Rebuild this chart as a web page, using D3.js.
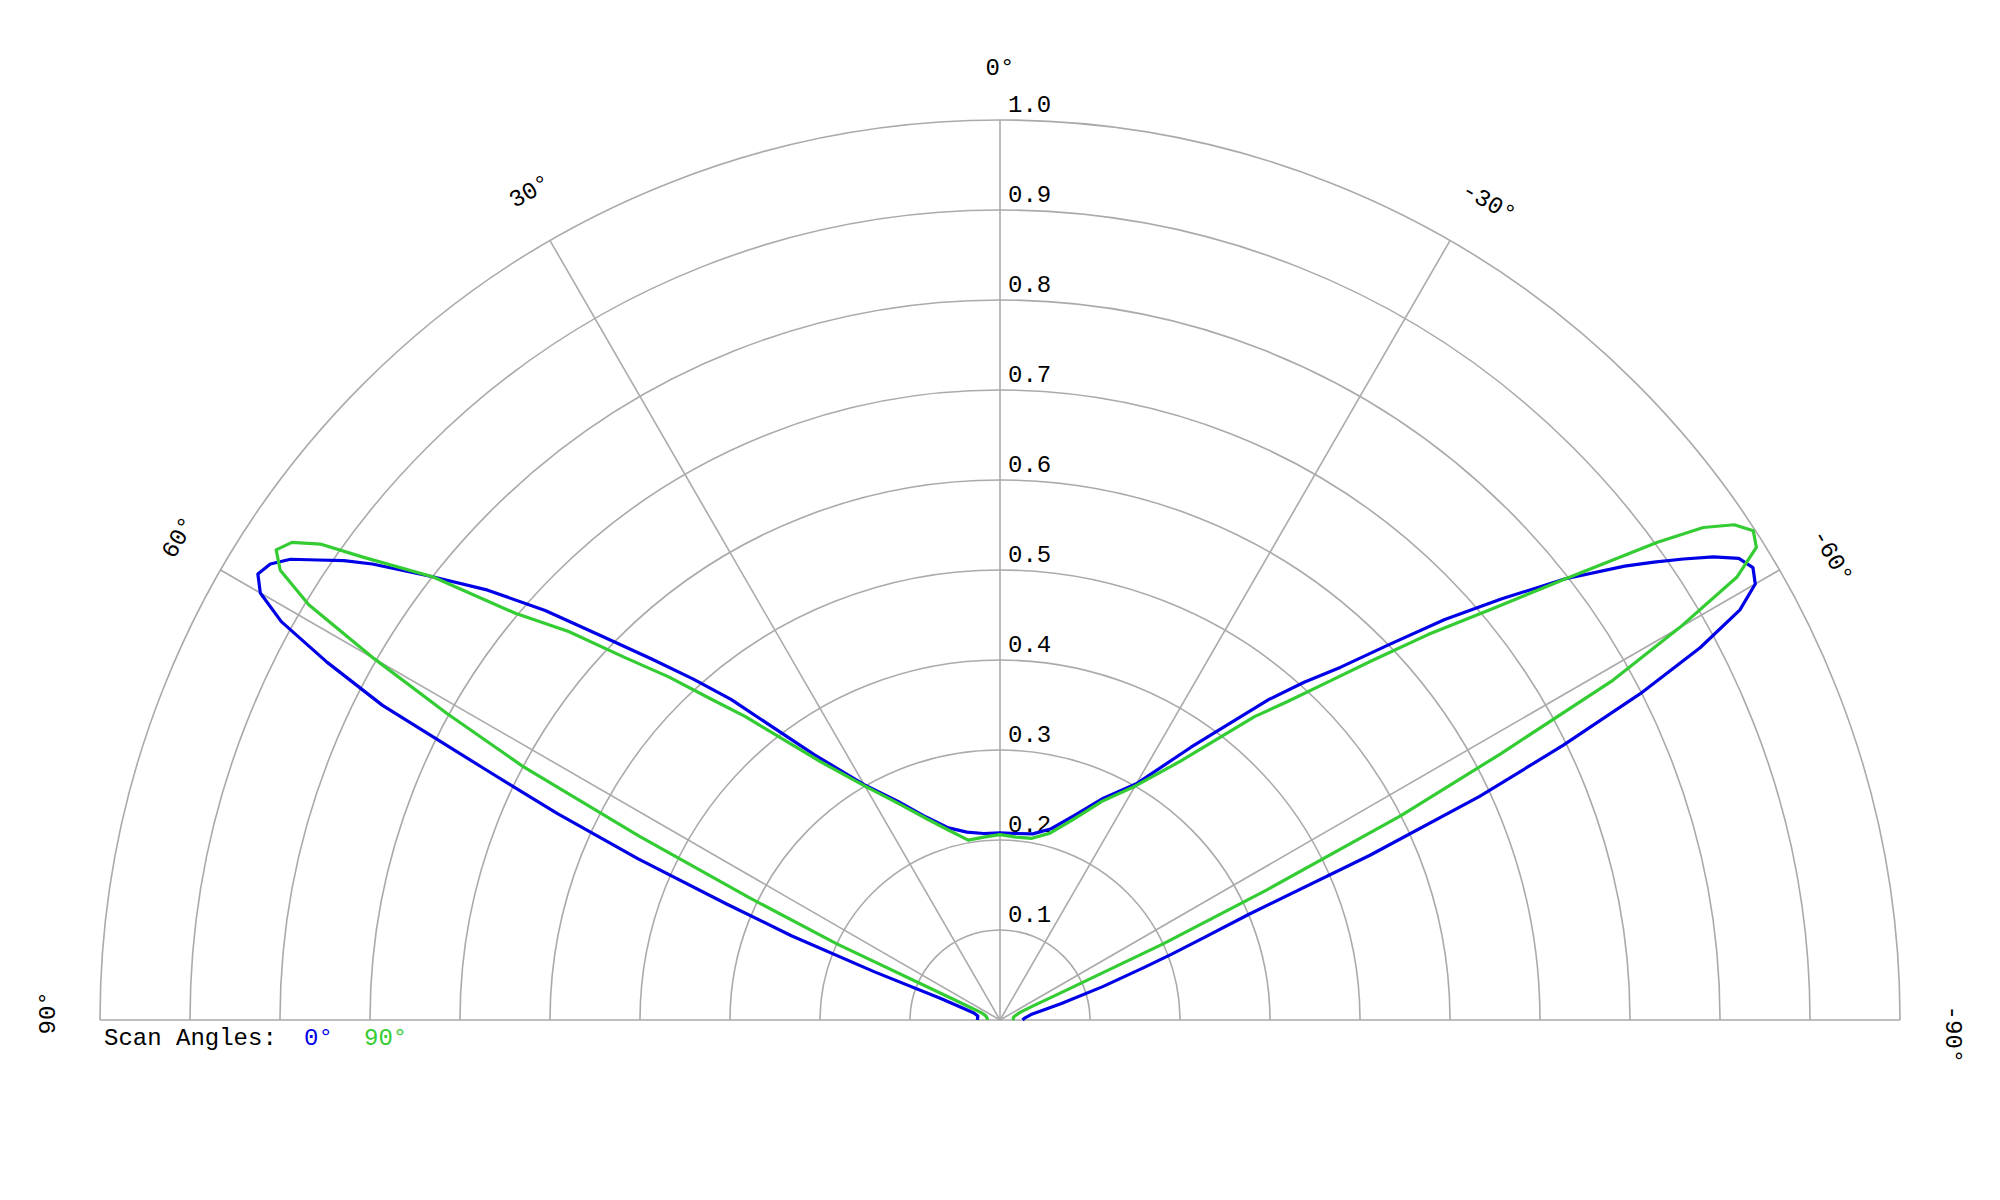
<!DOCTYPE html>
<html>
<head>
<meta charset="utf-8">
<script src="https://cdn.jsdelivr.net/npm/d3@7"></script>
<style>
  body { margin: 0; background: #fff; }
  svg { display: block; }
  text { font-family: "Courier New", "Liberation Mono", monospace; font-size: 24px; fill: #000; }
</style>
</head>
<body>
<svg id="chart" width="2000" height="1200"></svg>
<script>
// Angles in degrees (0° = boresight up, positive toward the left)
const angles = [-90,-85,-80,-75,-72,-70,-69,-68,-67,-66,-65,-64,-63,-62,-61,-60,-59,-58,-57,-56,-55,-54,-52,-50,-48,-46,-44,-42,-40,-35,-30,-25,-20,-15,-10,-5,
  0,
  5,10,15,20,25,30,35,40,42,44,46,48,50,52,54,55,56,57,58,59,60,61,62,63,64,65,66,67,68,69,70,72,75,80,85,90];

// Scan angle 0° (blue)
const scan0 = [0.025,0.028,0.035,0.07,0.12,0.17,0.205,0.245,0.30,0.45,0.588,0.696,0.798,0.881,0.940,0.969,0.976,0.968,0.945,0.916,0.887,0.858,0.796,0.728,0.665,0.600,0.545,0.505,0.465,0.37,0.303,0.272,0.242,0.220,0.210,0.208,
  0.208,
  0.208,0.212,0.221,0.240,0.268,0.302,0.36,0.465,0.51,0.558,0.613,0.68,0.743,0.80,0.862,0.89,0.914,0.940,0.956,0.962,0.949,0.913,0.847,0.770,0.64,0.543,0.44,0.33,0.25,0.15,0.07,0.045,0.03,0.025,0.025,0.025];

// Scan angle 90° (green)
const scan90 = [0.014,0.015,0.015,0.017,0.02,0.022,0.025,0.03,0.04,0.07,0.20,0.33,0.50,0.63,0.779,0.872,0.955,0.991,0.998,0.984,0.954,0.903,0.795,0.708,0.64,0.575,0.52,0.475,0.44,0.352,0.300,0.268,0.237,0.215,0.205,0.204,
  0.206,
  0.204,0.203,0.218,0.238,0.265,0.300,0.352,0.44,0.48,0.53,0.58,0.645,0.703,0.80,0.875,0.922,0.949,0.959,0.943,0.896,0.803,0.703,0.601,0.45,0.31,0.20,0.06,0.035,0.025,0.022,0.02,0.018,0.016,0.015,0.014,0.014];

const ringValues = [0.1,0.2,0.3,0.4,0.5,0.6,0.7,0.8,0.9,1.0];
const ringLabels = ["0.1","0.2","0.3","0.4","0.5","0.6","0.7","0.8","0.9","1.0"];
const spokeAngles = [-60,-30,0,30,60];
const angleTicks = [90,60,30,0,-30,-60,-90];
const angleTickLabels = ["90°","60°","30°","0°","-30°","-60°","-90°"];

const series = [
  { name: "0°", values: scan0, color: "#0000e6" },
  { name: "90°", values: scan90, color: "#33cc33" }
];

const cx = 1000, cy = 1020, R = 900;
const svg = d3.select("#chart");
svg.append("rect").attr("width", 2000).attr("height", 1200).attr("fill", "#fff");

const r = d3.scaleLinear().domain([0, 1]).range([0, R]);
const toRad = d => -d * Math.PI / 180; // d3 radial angle: clockwise from 12 o'clock

const g = svg.append("g").attr("transform", `translate(${cx},${cy})`);
const grid = g.append("g").attr("fill", "none").attr("stroke", "#aaaaaa").attr("stroke-width", 1.6);

// rings (upper half circles)
grid.selectAll("path.ring").data(ringValues).join("path")
  .attr("class", "ring")
  .attr("d", d => {
    const rr = r(d);
    return `M${-rr},0 A${rr},${rr} 0 0 1 ${rr},0`;
  });

// baseline (±90°)
grid.append("line").attr("x1", r(1) * Math.sin(toRad(90))).attr("y1", 0)
  .attr("x2", r(1) * Math.sin(toRad(-90))).attr("y2", 0);

// spokes
grid.selectAll("line.spoke").data(spokeAngles).join("line")
  .attr("class", "spoke")
  .attr("x1", 0).attr("y1", 0)
  .attr("x2", d => r(1) * Math.sin(toRad(d)))
  .attr("y2", d => -r(1) * Math.cos(toRad(d)));

// radial labels
g.selectAll("text.rl").data(ringValues).join("text")
  .attr("class", "rl")
  .attr("x", 8)
  .attr("y", d => -r(d) - 8)
  .text((d, i) => ringLabels[i]);

// angular labels (start-anchored, one character back from the tick point)
const labelR = r(1) + 52;
g.selectAll("text.al").data(angleTicks).join("text")
  .attr("class", "al")
  .attr("text-anchor", "start")
  .attr("dominant-baseline", "central")
  .attr("x", -14.4)
  .attr("transform", d => {
    const a = toRad(d);
    const x = labelR * Math.sin(a), y = -labelR * Math.cos(a);
    return `translate(${x},${y}) rotate(${-d})`;
  })
  .text((d, i) => angleTickLabels[i]);

// curves
const line = d3.lineRadial()
  .angle(d => toRad(d[0]))
  .radius(d => r(d[1]));

series.forEach(s => {
  g.append("path")
    .datum(angles.map((a, i) => [a, s.values[i]]))
    .attr("fill", "none")
    .attr("stroke", s.color)
    .attr("stroke-width", 3.2)
    .attr("stroke-linejoin", "round")
    .attr("d", line);
});

// legend
svg.append("text").attr("x", 104).attr("y", 1045).text("Scan Angles:");
svg.append("text").attr("x", 304).attr("y", 1045).style("fill", series[0].color).text(series[0].name);
svg.append("text").attr("x", 364).attr("y", 1045).style("fill", series[1].color).text(series[1].name);
</script>
</body>
</html>
